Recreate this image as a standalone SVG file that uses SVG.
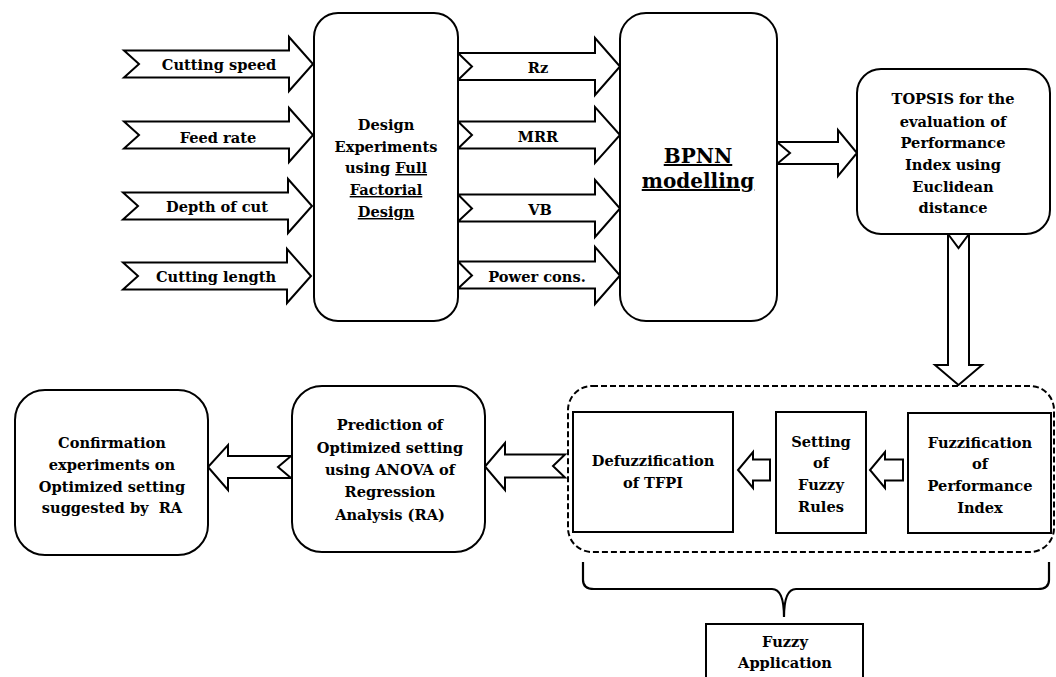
<svg xmlns="http://www.w3.org/2000/svg" width="1056" height="677" viewBox="0 0 1056 677">
<style>
.box{fill:#fff;stroke:#000;stroke-width:2}
.arr{fill:#fff;stroke:#000;stroke-width:2;stroke-linejoin:miter}
.dash{fill:none;stroke:#000;stroke-width:2;stroke-dasharray:6,3}
.br{fill:none;stroke:#000;stroke-width:2.2}
text{font-family:"DejaVu Serif","Liberation Serif",serif;font-weight:bold;font-size:14.6px;fill:#000;text-anchor:middle}
.big{font-size:20px}
.u{text-decoration:underline}
</style>
<rect width="1056" height="677" fill="#fff"/>
<g id="connectors">
<path class="arr" d="M124,50.5 L289,50.5 L289,37 L313,64 L289,91 L289,77.5 L124,77.5 L139,64 Z"/>
<path class="arr" d="M124,121.5 L289,121.5 L289,108 L313,135 L289,162 L289,148.5 L124,148.5 L139,135 Z"/>
<path class="arr" d="M123,192.5 L288,192.5 L288,179 L312,206 L288,233 L288,219.5 L123,219.5 L138,206 Z"/>
<path class="arr" d="M123,262.5 L287,262.5 L287,249 L311,276 L287,303 L287,289.5 L123,289.5 L138,276 Z"/>
<path class="arr" d="M458,53 L595,53 L595,38 L620,66.5 L595,95 L595,80 L458,80 L472,66.5 Z"/>
<path class="arr" d="M458,121.5 L595,121.5 L595,107 L620,135 L595,163 L595,148.5 L458,148.5 L472,135 Z"/>
<path class="arr" d="M458,194.5 L595,194.5 L595,180 L620,208.5 L595,237 L595,221.5 L458,221.5 L472,208.5 Z"/>
<path class="arr" d="M458,261.5 L595,261.5 L595,247 L620,275.5 L595,304 L595,288.5 L458,288.5 L472,275.5 Z"/>
<path class="arr" d="M777,142 L838,142 L838,130 L857,153 L838,176 L838,164 L777,164 L790,153 Z"/>
<path class="arr" d="M948,234 L958.5,248 L969,234 L969,365 L982,365 L958.5,385 L935,365 L948,365 Z"/>
<path class="arr" d="M770,459.5 L753,459.5 L753,452 L738,470 L753,488 L753,480.5 L770,480.5 Z"/>
<path class="arr" d="M903,459.5 L885,459.5 L885,452 L870,470 L885,488 L885,480.5 L903,480.5 Z"/>
<path class="arr" d="M565,454.5 L505,454.5 L505,443 L485,466.5 L505,490 L505,477.5 L565,477.5 L553,466 Z"/>
<path class="arr" d="M291,456 L228,456 L228,445 L208,467 L228,490 L228,478 L291,478 L278,467 Z"/>
<path class="br" d="M583,562 L583,580 Q583,589 594,589 L772,589 Q784,589 784,617 Q784,589 796,589 L1038,589 Q1049,589 1049,580 L1049,562"/>
</g>
<g id="input-labels">
<text x="219" y="70">Cutting speed</text>
<text x="218" y="143">Feed rate</text>
<text x="217" y="212">Depth of cut</text>
<text x="216" y="282">Cutting length</text>
</g>
<g id="output-labels">
<text x="538" y="73">Rz</text>
<text x="538" y="142">MRR</text>
<text x="540" y="215">VB</text>
<text x="537" y="282">Power cons.</text>
</g>
<g id="design">
<rect class="box" x="314" y="13" width="144" height="308" rx="24"/>
<text x="386" y="130">Design</text>
<text x="386" y="152">Experiments</text>
<text x="386" y="173">using <tspan class="u">Full</tspan></text>
<text x="386" y="195" class="u">Factorial</text>
<text x="386" y="217" class="u">Design</text>
</g>
<g id="bpnn">
<rect class="box" x="620" y="13" width="157" height="308" rx="26"/>
<text x="698" y="163" class="big u">BPNN</text>
<text x="698" y="188" class="big u">modelling</text>
</g>
<g id="topsis">
<rect class="box" x="857" y="69" width="193" height="165" rx="24"/>
<text x="953" y="104">TOPSIS for the</text>
<text x="953" y="127">evaluation of</text>
<text x="953" y="148">Performance</text>
<text x="953" y="170">Index using</text>
<text x="953" y="192">Euclidean</text>
<text x="953" y="213">distance</text>
</g>
<g id="fuzzy-group">
<rect class="dash" x="568" y="386" width="486" height="166" rx="24"/>
</g>
<g id="defuzzification">
<rect class="box" x="573" y="412" width="160" height="120"/>
<text x="653" y="466">Defuzzification</text>
<text x="653" y="488">of TFPI</text>
</g>
<g id="rules">
<rect class="box" x="776" y="412" width="90" height="121"/>
<text x="821" y="447">Setting</text>
<text x="821" y="468">of</text>
<text x="821" y="490">Fuzzy</text>
<text x="821" y="512">Rules</text>
</g>
<g id="fuzzification">
<rect class="box" x="908" y="413" width="143" height="120"/>
<text x="980" y="448">Fuzzification</text>
<text x="980" y="469">of</text>
<text x="980" y="491">Performance</text>
<text x="980" y="513">Index</text>
</g>
<g id="fuzzy-application">
<rect class="box" x="706" y="624" width="157" height="70"/>
<text x="785" y="647">Fuzzy</text>
<text x="785" y="668">Application</text>
</g>
<g id="prediction">
<rect class="box" x="292" y="386" width="193" height="166" rx="30"/>
<text x="390" y="430">Prediction of</text>
<text x="390" y="453">Optimized setting</text>
<text x="390" y="475">using ANOVA of</text>
<text x="390" y="497">Regression</text>
<text x="390" y="520">Analysis (RA)</text>
</g>
<g id="confirmation">
<rect class="box" x="15" y="390" width="193" height="165" rx="30"/>
<text x="112" y="448">Confirmation</text>
<text x="112" y="470">experiments on</text>
<text x="112" y="492">Optimized setting</text>
<text x="112" y="513">suggested by&#160; RA</text>
</g>
</svg>
